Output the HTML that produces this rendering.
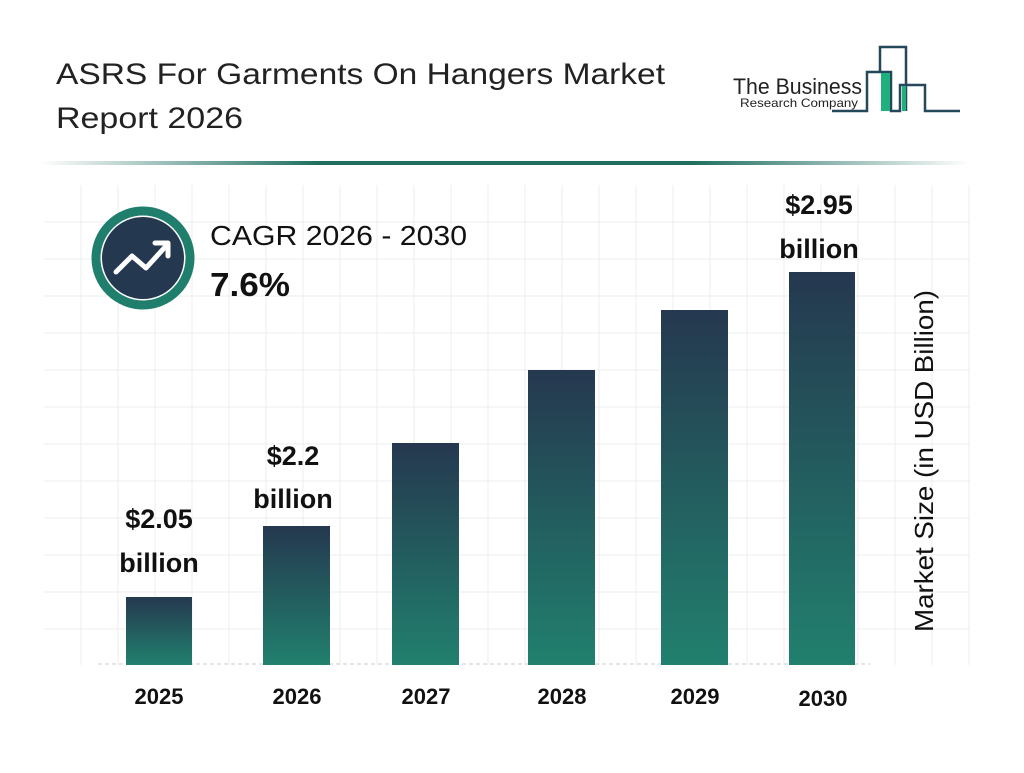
<!DOCTYPE html><html><head><style>body{margin:0;background:#fff;font-family:"Liberation Sans",Arial,sans-serif}</style></head><body>
<svg width="1024" height="768" xmlns="http://www.w3.org/2000/svg" font-family="Liberation Sans, Arial, sans-serif">
<defs>
<linearGradient id="g" x1="0" y1="0" x2="0" y2="1"><stop offset="0" stop-color="#25384f"/><stop offset="1" stop-color="#21806e"/></linearGradient>
<linearGradient id="hl" x1="0" y1="0" x2="1" y2="0"><stop offset="0" stop-color="#fff"/><stop offset="0.3" stop-color="#1f6e60"/><stop offset="0.7" stop-color="#1f6e60"/><stop offset="1" stop-color="#fff"/></linearGradient>
</defs>
<text x="56" y="84" font-size="30" fill="#222" textLength="609" lengthAdjust="spacingAndGlyphs">ASRS For Garments On Hangers Market</text>
<text x="56" y="128" font-size="30" fill="#222" textLength="187" lengthAdjust="spacingAndGlyphs">Report 2026</text>
<rect x="40" y="161" width="930" height="4" fill="url(#hl)"/>
<text x="733" y="94" font-size="22" fill="#222" textLength="129" lengthAdjust="spacingAndGlyphs">The Business</text>
<text x="740" y="107" font-size="12" fill="#222" textLength="118" lengthAdjust="spacingAndGlyphs">Research Company</text>
<path d="M832 111 H867 V72 H891 V111 H900 V85 H925 V111 H960 M880 72 V47 H906 V111" stroke="#24475a" stroke-width="2.5" fill="none"/>
<rect x="881" y="73" width="9" height="38" fill="#1fb07e"/>
<rect x="902" y="86" width="4" height="25" fill="#1fb07e"/>
<g stroke="#ececec" stroke-width="1">
<path d="M81 185V665M118 185V665M155 185V665M192 185V665M229 185V665M266 185V665M303 185V665M340 185V665M377 185V665M414 185V665M451 185V665M488 185V665M525 185V665M562 185V665M599 185V665M636 185V665M673 185V665M710 185V665M747 185V665M784 185V665M821 185V665M858 185V665M895 185V665M932 185V665M969 185V665"/>
<path d="M44 222H970M44 259H970M44 296H970M44 333H970M44 370H970M44 407H970M44 444H970M44 481H970M44 518H970M44 555H970M44 592H970M44 629H970"/>
</g>
<line x1="98" y1="664" x2="870" y2="664" stroke="#ccc" stroke-dasharray="4,3"/>
<rect x="126" y="597" width="66" height="68" fill="url(#g)"/>
<rect x="263" y="526" width="67" height="139" fill="url(#g)"/>
<rect x="392" y="443" width="67" height="222" fill="url(#g)"/>
<rect x="528" y="370" width="67" height="295" fill="url(#g)"/>
<rect x="661" y="310" width="67" height="355" fill="url(#g)"/>
<rect x="789" y="272" width="66" height="393" fill="url(#g)"/>
<g font-size="22" font-weight="bold" fill="#111" text-anchor="middle">
<text x="159" y="704">2025</text><text x="297" y="704">2026</text><text x="426" y="704">2027</text><text x="562" y="704">2028</text><text x="695" y="704">2029</text><text x="823" y="706">2030</text>
</g>
<g font-size="27" font-weight="bold" fill="#111" text-anchor="middle">
<text x="159" y="528">$2.05</text><text x="159" y="572">billion</text>
<text x="293" y="465">$2.2</text><text x="293" y="508">billion</text>
<text x="819" y="214">$2.95</text><text x="819" y="258">billion</text>
</g>
<text transform="translate(933,632) rotate(-90)" font-size="26" fill="#111" textLength="342" lengthAdjust="spacingAndGlyphs">Market Size (in USD Billion)</text>
<circle cx="143" cy="258" r="47" fill="#fff" stroke="#1f7f6c" stroke-width="9"/>
<circle cx="143" cy="258" r="41" fill="#24384f"/>
<path d="M116 272 L132 256 L146 268 L166 246" stroke="#fff" stroke-width="5" fill="none" stroke-linecap="round" stroke-linejoin="round"/>
<path d="M155 243 H168 V256" stroke="#fff" stroke-width="5" fill="none" stroke-linecap="round" stroke-linejoin="round"/>
<text x="210" y="245" font-size="28" fill="#111" textLength="257" lengthAdjust="spacingAndGlyphs">CAGR 2026 - 2030</text>
<text x="210" y="296" font-size="33" font-weight="bold" fill="#111" textLength="80" lengthAdjust="spacingAndGlyphs">7.6%</text>
</svg>
</body></html>
